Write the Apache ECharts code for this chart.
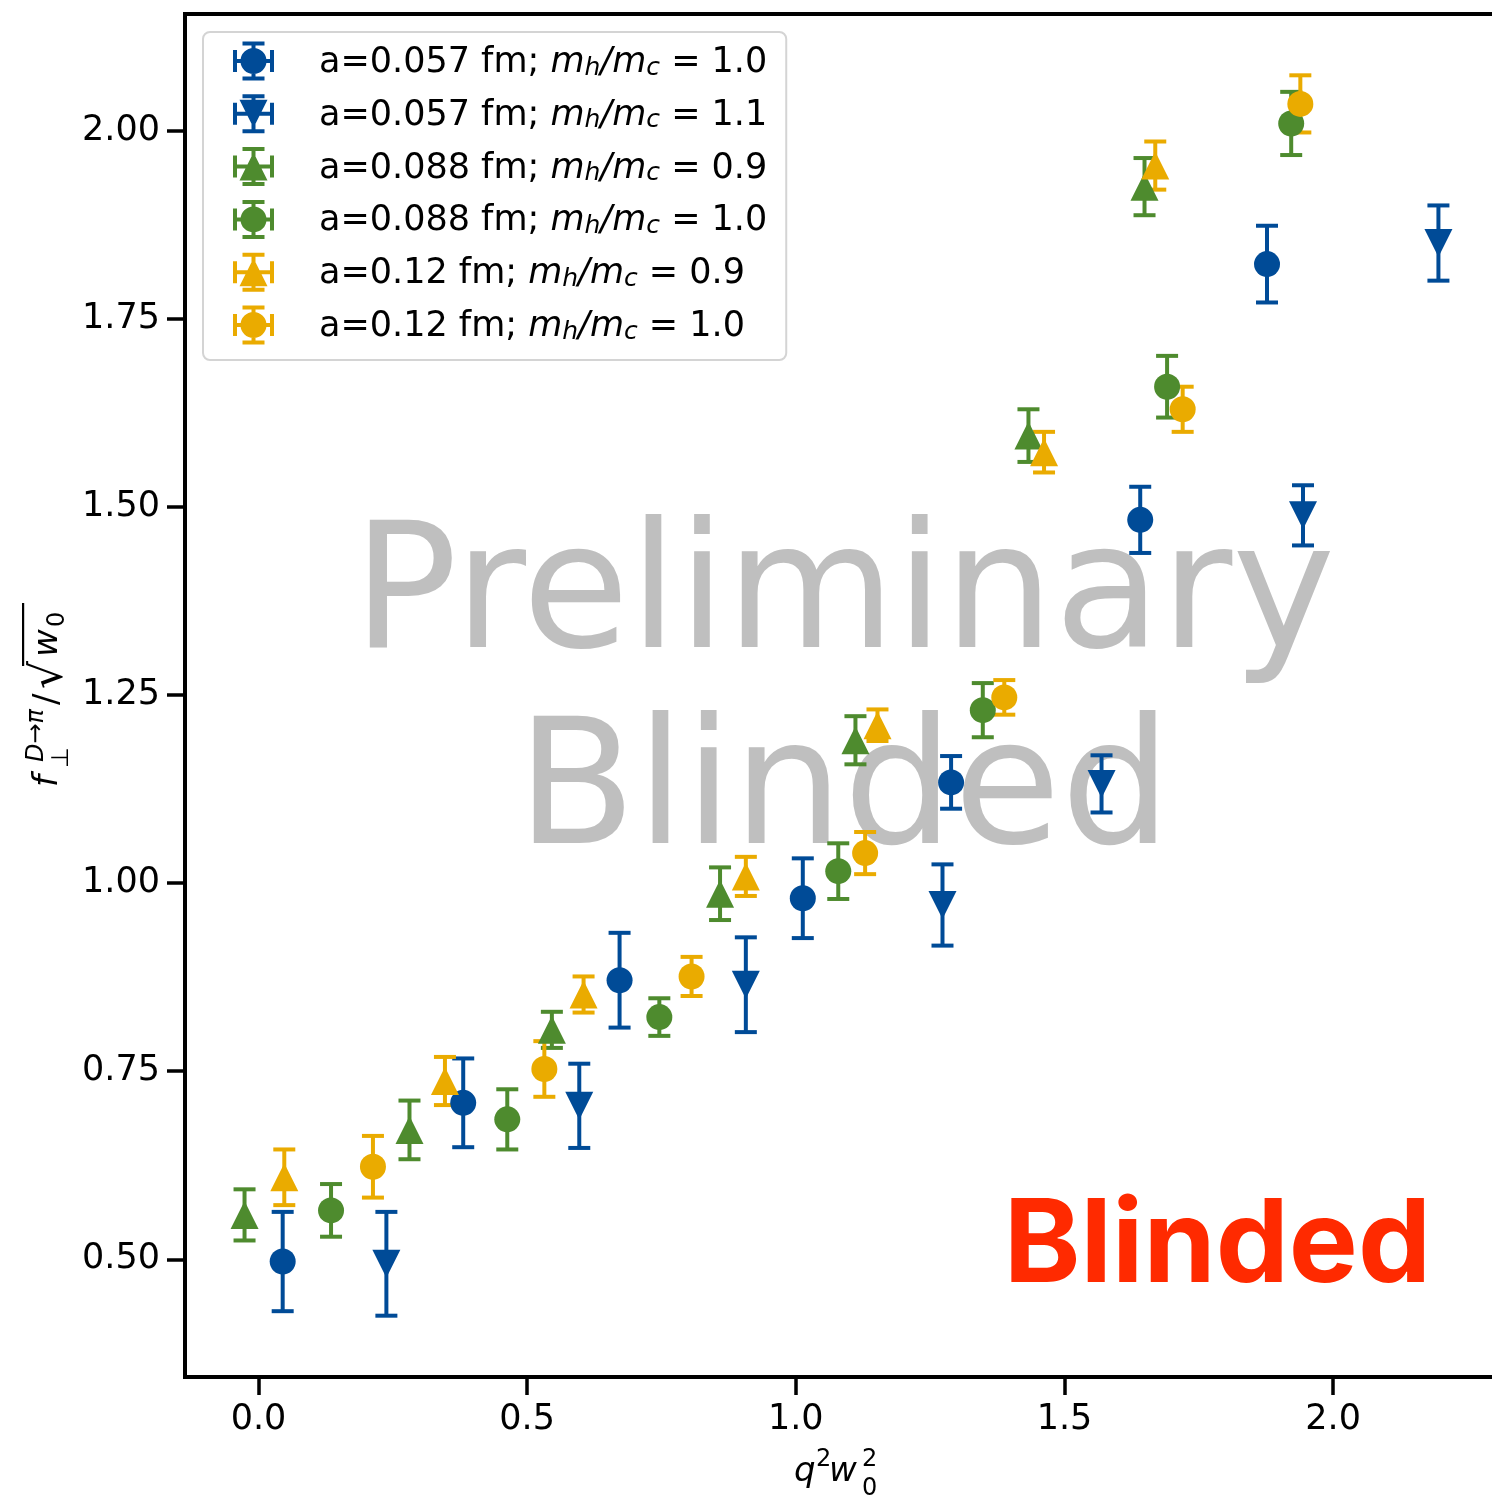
<!DOCTYPE html>
<html>
<head>
<meta charset="utf-8">
<script src="https://cdn.jsdelivr.net/npm/echarts@6/dist/echarts.min.js"></script>
<style>
  html, body { margin: 0; padding: 0; background: #ffffff; }
  #chart { width: 1492px; height: 1500px; }
</style>
</head>
<body>
<div id="chart"></div>
<script>
// Form factor f_perp(D->pi)/sqrt(w0) against q^2 w0^2, one set per ensemble / heavy-mass ratio.

// a = 0.057 fm, mh/mc = 1.0
const q2_057_10 = [0.045, 0.381, 0.672, 1.013, 1.289, 1.641, 1.877];
const f_057_10  = [0.497, 0.708, 0.871, 0.980, 1.134, 1.483, 1.823];
const df_057_10 = [0.066, 0.059, 0.063, 0.053, 0.035, 0.044, 0.051];

// a = 0.057 fm, mh/mc = 1.1
const q2_057_11 = [0.238, 0.597, 0.907, 1.273, 1.569, 1.944, 2.196];
const f_057_11  = [0.494, 0.704, 0.865, 0.971, 1.132, 1.489, 1.851];
const df_057_11 = [0.069, 0.056, 0.063, 0.054, 0.038, 0.040, 0.050];

// a = 0.088 fm, mh/mc = 0.9
const q2_088_09 = [-0.026, 0.281, 0.546, 0.859, 1.111, 1.433, 1.649];
const f_088_09  = [0.559, 0.672, 0.805, 0.986, 1.190, 1.595, 1.926];
const df_088_09 = [0.034, 0.039, 0.024, 0.035, 0.032, 0.035, 0.038];

// a = 0.088 fm, mh/mc = 1.0
const q2_088_10 = [0.135, 0.463, 0.746, 1.079, 1.348, 1.691, 1.922];
const f_088_10  = [0.565, 0.686, 0.822, 1.016, 1.230, 1.660, 2.010];
const df_088_10 = [0.035, 0.040, 0.025, 0.037, 0.036, 0.041, 0.042];

// a = 0.12 fm, mh/mc = 0.9
const q2_12_09 = [0.048, 0.347, 0.605, 0.907, 1.152, 1.462, 1.669];
const f_12_09  = [0.609, 0.737, 0.852, 1.009, 1.210, 1.573, 1.954];
const df_12_09 = [0.037, 0.032, 0.024, 0.026, 0.021, 0.027, 0.032];

// a = 0.12 fm, mh/mc = 1.0
const q2_12_10 = [0.213, 0.532, 0.806, 1.129, 1.388, 1.720, 1.939];
const f_12_10  = [0.623, 0.753, 0.876, 1.040, 1.247, 1.630, 2.036];
const df_12_10 = [0.041, 0.037, 0.026, 0.028, 0.023, 0.030, 0.038];

const spacings   = ['0.057', '0.057', '0.088', '0.088', '0.12', '0.12'];
const massRatios = ['1.0', '1.1', '0.9', '1.0', '0.9', '1.0'];

const xTicks = [0.0, 0.5, 1.0, 1.5, 2.0];
const yTicks = [0.50, 0.75, 1.00, 1.25, 1.50, 1.75, 2.00];

const BLUE = '#004b97', GREEN = '#4e8b2e', GOLD = '#eaab00';
const FONT = '"DejaVu Sans", sans-serif';
const MID = 0.256; // baseline offset below the 'middle' anchor for DejaVu Sans

const sets = [
  { q2: q2_057_10, f: f_057_10, df: df_057_10, color: BLUE,  marker: 'circle' },
  { q2: q2_057_11, f: f_057_11, df: df_057_11, color: BLUE,  marker: 'down' },
  { q2: q2_088_09, f: f_088_09, df: df_088_09, color: GREEN, marker: 'up' },
  { q2: q2_088_10, f: f_088_10, df: df_088_10, color: GREEN, marker: 'circle' },
  { q2: q2_12_09,  f: f_12_09,  df: df_12_09,  color: GOLD,  marker: 'up' },
  { q2: q2_12_10,  f: f_12_10,  df: df_12_10,  color: GOLD,  marker: 'circle' }
];
sets.forEach((s, i) => { s.name = 'a=' + spacings[i] + ' fm; mh/mc = ' + massRatios[i]; });

// Legend glyphs: errorbar cross with caps plus the marker (41 x 39 box)
const BARS = 'M18.5 0H22.5V39H18.5Z M9.5 0H31.5V4H9.5Z M9.5 35H31.5V39H9.5Z ' +
             'M0 17.5H41V21.5H0Z M0 8.5H4V30.5H0Z M37 8.5H41V30.5H37Z ';
const MARK = {
  circle: 'M33.5 19.5A13 13 0 1 1 7.5 19.5A13 13 0 1 1 33.5 19.5Z',
  up: 'M20.5 5.5L34.5 33.5L6.5 33.5Z',
  down: 'M6.5 5.5L34.5 5.5L20.5 33.5Z'
};

function errorBarSeries(s) {
  const rows = s.q2.map((x, i) => [x, s.f[i], s.df[i]]);
  return {
    type: 'custom',
    name: s.name,
    data: rows,
    encode: { x: 0, y: 1 },
    silent: true,
    clip: false,
    renderItem: function (params, api) {
      const x = api.value(0), y = api.value(1), e = api.value(2);
      const hi = api.coord([x, y + e]);
      const lo = api.coord([x, y - e]);
      const hw = 11;
      const st = { stroke: s.color, lineWidth: 4 };
      return {
        type: 'group',
        children: [
          { type: 'line', shape: { x1: hi[0], y1: hi[1], x2: lo[0], y2: lo[1] }, style: st },
          { type: 'line', shape: { x1: hi[0] - hw, y1: hi[1], x2: hi[0] + hw, y2: hi[1] }, style: st },
          { type: 'line', shape: { x1: lo[0] - hw, y1: lo[1], x2: lo[0] + hw, y2: lo[1] }, style: st }
        ]
      };
    }
  };
}

function markerSeries(s) {
  const isTri = s.marker !== 'circle';
  return {
    type: 'scatter',
    name: s.name,
    data: s.q2.map((x, i) => [x, s.f[i]]),
    symbol: isTri ? 'triangle' : 'circle',
    symbolSize: isTri ? [28, 28] : 26,
    symbolRotate: s.marker === 'down' ? 180 : 0,
    itemStyle: { color: s.color, opacity: 1 },
    silent: true
  };
}

const series = [];
sets.forEach(s => { series.push(errorBarSeries(s)); series.push(markerSeries(s)); });

const legendData = sets.map(s => ({
  name: s.name,
  icon: 'path://' + BARS + MARK[s.marker],
  itemStyle: { color: s.color, borderWidth: 0 }
}));

function legendLabel(name) {
  const i = sets.findIndex(s => s.name === name);
  return '{gap|}{t|a=' + spacings[i] + ' fm; }{i|m}{s|h}{i|/m}{s|c}{t| = ' + massRatios[i] + '}';
}

// one piece of math-style text; y is the baseline
function piece(text, x, y, size, italic) {
  return {
    type: 'text', x: x, y: y - MID * size,
    style: {
      text: text,
      font: (italic ? 'italic ' : '') + size + 'px ' + FONT,
      fill: '#000', align: 'left', verticalAlign: 'middle'
    }
  };
}

const yTitle = {
  type: 'group', x: 57, y: 787, rotation: Math.PI / 2, silent: true,
  children: [
    piece('f', 0, 0, 34, true),
    piece('D\u2192\u03c0', 25, -14, 24, true),
    piece('\u22a5', 19, 11, 24, false),
    piece('/', 82, 0, 34, false),
    piece('\u221a', 98, 5, 44, false),
    { type: 'rect', shape: { x: 121, y: -35, width: 63, height: 2.2 }, style: { fill: '#000' } },
    piece('w', 130, 0, 34, true),
    piece('0', 160, 7, 24, false)
  ]
};

const xTitle = {
  type: 'group', x: 0, y: 0, silent: true,
  children: [
    piece('q', 794, 1481, 34, true),
    piece('2', 816, 1466, 24, false),
    piece('w', 829, 1481, 34, true),
    piece('2', 862, 1466, 24, false),
    piece('0', 862, 1495, 24, false)
  ]
};

const watermark = {
  type: 'group', z: 100, silent: true,
  children: [
    { type: 'text', x: 844, y: 646 - MID * 174,
      style: { text: 'Preliminary', font: '174px ' + FONT, fill: '#808080', opacity: 0.5, align: 'center', verticalAlign: 'middle' } },
    { type: 'text', x: 844, y: 842 - MID * 174,
      style: { text: 'Blinded', font: '174px ' + FONT, fill: '#808080', opacity: 0.5, align: 'center', verticalAlign: 'middle' } }
  ]
};

const stamp = {
  type: 'text', z: 100, silent: true, x: 1431, y: 1283 - 0.31 * 116,
  style: { text: 'Blinded', font: 'bold 116px Inter, Lato, sans-serif', fill: '#ff2a00', align: 'right', verticalAlign: 'middle' }
};

const chart = echarts.init(document.getElementById('chart'), null, { renderer: 'canvas' });
chart.setOption({
  animation: false,
  backgroundColor: '#ffffff',
  grid: {
    left: 185, top: 14, width: 1315, height: 1363,
    outerBoundsMode: 'none', containLabel: false,
    show: true, borderColor: '#000', borderWidth: 4, backgroundColor: 'transparent'
  },
  xAxis: {
    type: 'value', min: -0.1368, max: 2.3106,
    axisLine: { show: true, onZero: false, lineStyle: { color: '#000', width: 4 } },
    axisTick: { show: true, customValues: xTicks, length: 18, lineStyle: { color: '#000', width: 3.5 } },
    axisLabel: { customValues: xTicks, formatter: v => v.toFixed(1), fontSize: 35, fontFamily: FONT, color: '#000', margin: 25 },
    splitLine: { show: false }
  },
  yAxis: {
    type: 'value', min: 0.3435, max: 2.1555,
    axisLine: { show: true, onZero: false, lineStyle: { color: '#000', width: 4 } },
    axisTick: { show: true, customValues: yTicks, length: 18, lineStyle: { color: '#000', width: 3.5 } },
    axisLabel: { customValues: yTicks, formatter: v => v.toFixed(2), fontSize: 35, fontFamily: FONT, color: '#000', margin: 25 },
    splitLine: { show: false }
  },
  legend: {
    orient: 'vertical', left: 203, top: 32,
    padding: [9.5, 19, 15.5, 30],
    itemGap: 13.8, itemWidth: 41, itemHeight: 39,
    selectedMode: false,
    backgroundColor: 'rgba(255,255,255,0.8)',
    borderColor: '#d4d4d4', borderWidth: 2, borderRadius: 7,
    data: legendData,
    formatter: legendLabel,
    textStyle: {
      fontFamily: FONT, fontSize: 35, color: '#000',
      rich: {
        gap: { width: 40, lineHeight: 39 },
        t: { fontFamily: FONT, fontSize: 35, color: '#000', lineHeight: 33, verticalAlign: 'bottom' },
        i: { fontFamily: FONT, fontSize: 35, fontStyle: 'italic', color: '#000', lineHeight: 33, verticalAlign: 'bottom' },
        s: { fontFamily: FONT, fontSize: 25, fontStyle: 'italic', color: '#000', lineHeight: 15, verticalAlign: 'bottom' }
      }
    }
  },
  graphic: [yTitle, xTitle, watermark, stamp],
  series: series
});
</script>
</body>
</html>
